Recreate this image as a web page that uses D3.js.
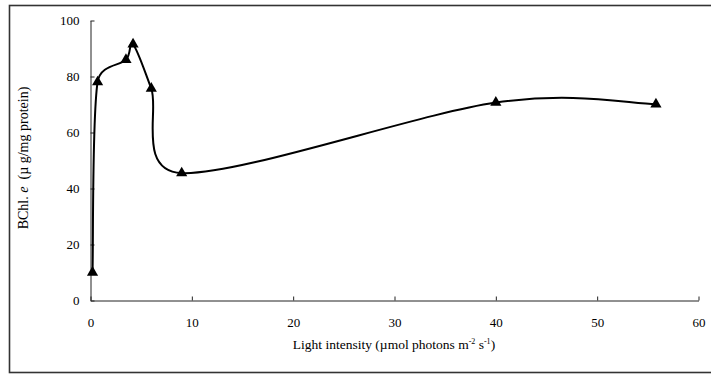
<!DOCTYPE html>
<html>
<head>
<meta charset="utf-8">
<script src="https://cdn.jsdelivr.net/npm/d3@7"></script>
<style>
  html, body { margin: 0; padding: 0; background: #fff; }
  svg { display: block; }
  svg text { font-family: "Liberation Serif", "Times New Roman", serif; }
</style>
</head>
<body>
<svg id="chart" width="711" height="374"></svg>
<script>
// Light intensity (µmol photons m-2 s-1) and BChl. e content (µg/mg protein)
const lightIntensity = [0.2, 0.7, 3.5, 4.2, 6.0, 9.0, 40.0, 55.8];
const bchlContent    = [10, 78, 86, 91.5, 75.7, 45.5, 70.7, 70.1];
const xTicks = [0, 10, 20, 30, 40, 50, 60];
const yTicks = [0, 20, 40, 60, 80, 100];

// Spreadsheet-style smoothing: cubic Bézier segments whose control points
// follow the neighbouring chord (P[i+1] - P[i-1]) / 6, limited to half
// of the segment length so short segments do not loop.
function SmoothChart(context) { this._context = context; }
SmoothChart.prototype = {
  areaStart() {}, areaEnd() {},
  lineStart() { this._pts = []; },
  point(px, py) { this._pts.push([+px, +py]); },
  lineEnd() {
    const p = this._pts, n = p.length, c = this._context;
    if (!n) return;
    c.moveTo(p[0][0], p[0][1]);
    const cap = (vx, vy, lim) => {
      const len = Math.hypot(vx, vy);
      return len > lim ? [vx * lim / len, vy * lim / len] : [vx, vy];
    };
    for (let i = 0; i < n - 1; i++) {
      const p0 = p[Math.max(i - 1, 0)], p1 = p[i], p2 = p[i + 1], p3 = p[Math.min(i + 2, n - 1)];
      const half = Math.hypot(p2[0] - p1[0], p2[1] - p1[1]) / 2;
      const a = cap((p2[0] - p0[0]) / 6, (p2[1] - p0[1]) / 6, half);
      const b = cap((p3[0] - p1[0]) / 6, (p3[1] - p1[1]) / 6, half);
      c.bezierCurveTo(p1[0] + a[0], p1[1] + a[1], p2[0] - b[0], p2[1] - b[1], p2[0], p2[1]);
    }
  }
};
const curveSmoothChart = ctx => new SmoothChart(ctx);

const svg = d3.select("#chart");

// outer frame
svg.append("rect")
  .attr("x", 9.5).attr("y", 5.5)
  .attr("width", 706).attr("height", 367)
  .attr("fill", "none").attr("stroke", "#333").attr("stroke-width", 1.6);

const x = d3.scaleLinear().domain([0, 60]).range([90.5, 698.5]);
const y = d3.scaleLinear().domain([0, 100]).range([300.5, 20.5]);

const fontSize = 13;

const xAxis = svg.append("g")
  .attr("transform", `translate(0,${y(0)})`)
  .call(d3.axisBottom(x).tickValues(xTicks).tickFormat(d3.format("d"))
        .tickSizeInner(-4).tickSizeOuter(0).tickPadding(17));
const yAxis = svg.append("g")
  .attr("transform", `translate(${x(0)},0)`)
  .call(d3.axisLeft(y).tickValues(yTicks).tickFormat(d3.format("d"))
        .tickSizeInner(-4).tickSizeOuter(0).tickPadding(11));

[xAxis, yAxis].forEach(g => {
  g.attr("font-family", null).attr("font-size", null);
  g.selectAll("text").attr("fill", "#000").style("font-size", fontSize + "px");
  g.selectAll("line").attr("stroke", "#222");
  g.select(".domain").attr("stroke", "#222");
});

const pts = lightIntensity.map((v, i) => [v, bchlContent[i]]);

// smoothed response curve
const line = d3.line()
  .x(d => x(d[0])).y(d => y(d[1]))
  .curve(curveSmoothChart);
svg.append("path")
  .datum(pts)
  .attr("d", line)
  .attr("fill", "none")
  .attr("stroke", "#000")
  .attr("stroke-width", 2);

// triangle markers
const tri = d3.symbol().type(d3.symbolTriangle).size(54);
svg.append("g").selectAll("path")
  .data(pts).join("path")
  .attr("d", tri)
  .attr("transform", d => `translate(${x(d[0])},${y(d[1])})`)
  .attr("fill", "#000");

// x axis title
const xt = svg.append("text")
  .attr("x", 394).attr("y", 349)
  .attr("text-anchor", "middle")
  .style("font-size", "13.5px");
xt.append("tspan").text("Light intensity (µmol photons m");
xt.append("tspan").attr("dy", -5).style("font-size", "8px").text("-2");
xt.append("tspan").attr("dy", 5).text(" s");
xt.append("tspan").attr("dy", -5).style("font-size", "8px").text("-1");
xt.append("tspan").attr("dy", 5).text(")");

// y axis title
const yt = svg.append("text")
  .attr("transform", "translate(28,158) rotate(-90)")
  .attr("text-anchor", "middle")
  .style("font-size", "14px")
  .style("white-space", "pre");
yt.append("tspan").text("BChl. ");
yt.append("tspan").style("font-style", "italic").text("e");
yt.append("tspan").text("  (µ g/mg protein)");
</script>
</body>
</html>
